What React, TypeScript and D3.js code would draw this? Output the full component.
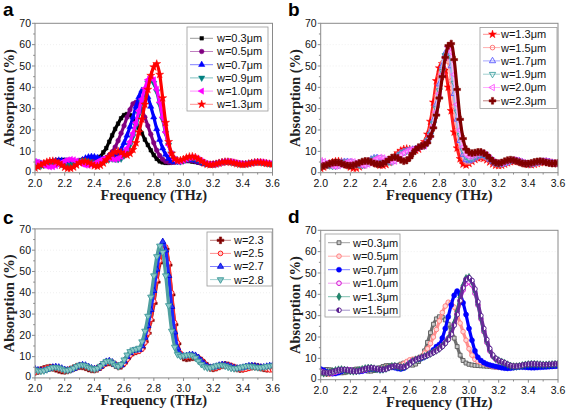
import React from "react";
import * as d3 from "d3";

// ---------------- DATA ----------------
const freq = [
  2.0, 2.02, 2.04, 2.06, 2.08, 2.1, 2.12, 2.14, 2.16, 2.18,
  2.2, 2.22, 2.24, 2.26, 2.28, 2.3, 2.32, 2.34, 2.36, 2.38,
  2.4, 2.42, 2.44, 2.46, 2.48, 2.5, 2.52, 2.54, 2.56, 2.58,
  2.6, 2.62, 2.64, 2.66, 2.68, 2.7, 2.72, 2.74, 2.76, 2.78,
  2.8, 2.82, 2.84, 2.86, 2.88, 2.9, 2.92, 2.94, 2.96, 2.98,
  3.0, 3.02, 3.04, 3.06, 3.08, 3.1, 3.12, 3.14, 3.16, 3.18,
  3.2, 3.22, 3.24, 3.26, 3.28, 3.3, 3.32, 3.34, 3.36, 3.38,
  3.4, 3.42, 3.44, 3.46, 3.48, 3.5, 3.52, 3.54, 3.56, 3.58,
  3.6,
];

const xTicks = [2.0, 2.2, 2.4, 2.6, 2.8, 3.0, 3.2, 3.4, 3.6];
const xTickLabels = ["2.0", "2.2", "2.4", "2.6", "2.8", "3.0", "3.2", "3.4", "3.6"];
const xMinorTicks = [2.1, 2.3, 2.5, 2.7, 2.9, 3.1, 3.3, 3.5];
const yTicks = [0, 10, 20, 30, 40, 50, 60, 70];
const yTickLabels = ["0", "10", "20", "30", "40", "50", "60", "70"];
const yMinorTicks = [5, 15, 25, 35, 45, 55, 65];

// Panel a
const aW03 = [
  4.0, 3.8, 3.8, 4.0, 4.4, 4.9, 5.3, 5.6, 5.8, 5.9,
  6.0, 6.0, 5.8, 5.5, 5.2, 5.0, 4.9, 5.0, 5.2, 5.6,
  6.0, 6.5, 7.5, 9.5, 11.5, 14.5, 17.5, 20.5, 23.0, 25.5,
  27.0, 27.5, 27.0, 25.5, 23.5, 21.0, 18.5, 15.5, 13.0, 10.5,
  8.3, 6.5, 5.3, 4.8, 4.6, 4.6, 4.8, 5.0, 5.2, 5.4,
  5.5, 5.5, 5.4, 5.2, 5.0, 4.7, 4.4, 4.2, 4.1, 4.1,
  4.2, 4.4, 4.6, 4.8, 4.9, 4.9, 4.8, 4.6, 4.4, 4.3,
  4.2, 4.3, 4.5, 4.7, 4.8, 4.9, 4.8, 4.6, 4.4, 4.3,
  4.2,
];
const aW05 = [
  3.0, 3.2, 3.6, 4.1, 4.6, 5.0, 5.3, 5.4, 5.3, 5.1,
  4.8, 4.6, 4.6, 4.8, 5.2, 5.7, 6.1, 6.3, 6.2, 5.9,
  5.6, 5.5, 5.7, 6.2, 7.0, 8.2, 9.8, 12.0, 15.0, 18.5,
  22.0, 26.0, 29.5, 32.3, 33.0, 32.0, 29.5, 26.0, 22.0, 18.0,
  14.0, 10.5, 8.0, 6.3, 5.3, 4.9, 4.8, 4.9, 5.2, 5.5,
  5.8, 5.9, 5.8, 5.6, 5.3, 4.9, 4.5, 4.2, 4.0, 4.0,
  4.1, 4.3, 4.6, 4.8, 5.0, 5.0, 4.9, 4.7, 4.5, 4.3,
  4.2, 4.2, 4.4, 4.6, 4.8, 4.9, 4.9, 4.7, 4.5, 4.3,
  4.2,
];
const aW07 = [
  5.0, 4.6, 4.3, 4.2, 4.4, 4.8, 5.2, 5.6, 5.8, 5.7,
  5.4, 5.0, 4.6, 4.4, 4.6, 5.2, 6.0, 6.8, 7.3, 7.5,
  7.4, 7.0, 6.5, 6.2, 6.2, 6.5, 7.0, 7.8, 9.0, 11.0,
  14.0, 17.5, 21.5, 26.0, 31.0, 35.5, 38.5, 38.0, 35.5, 31.0,
  26.0, 20.5, 15.5, 11.5, 8.5, 6.6, 5.5, 5.0, 4.9, 5.1,
  5.5, 5.9, 6.1, 6.1, 5.8, 5.3, 4.7, 4.2, 3.9, 3.8,
  3.9, 4.2, 4.6, 4.9, 5.1, 5.1, 4.9, 4.6, 4.3, 4.1,
  4.0, 4.1, 4.3, 4.6, 4.8, 4.9, 4.8, 4.6, 4.4, 4.2,
  4.1,
];
const aW09 = [
  3.5, 3.2, 3.2, 3.5, 4.0, 4.5, 4.8, 4.8, 4.5, 4.0,
  3.6, 3.5, 3.7, 4.2, 4.9, 5.5, 5.8, 5.7, 5.3, 4.8,
  4.4, 4.3, 4.6, 5.2, 5.9, 6.4, 6.5, 6.3, 6.2, 6.5,
  8.0, 10.0, 13.0, 17.0, 22.0, 27.5, 33.0, 38.0, 42.0, 43.5,
  42.0, 38.0, 32.0, 25.0, 18.5, 13.0, 9.0, 6.6, 5.4, 5.2,
  5.6, 6.2, 6.7, 6.9, 6.7, 6.1, 5.4, 4.7, 4.2, 3.9,
  3.9, 4.1, 4.5, 4.9, 5.1, 5.2, 5.0, 4.7, 4.4, 4.1,
  4.0, 4.1, 4.4, 4.7, 4.9, 5.0, 4.9, 4.7, 4.4, 4.2,
  4.1,
];
const aW10 = [
  5.2, 4.8, 4.2, 3.5, 3.0, 2.7, 2.8, 3.3, 4.0, 4.8,
  5.5, 6.0, 6.2, 6.0, 5.5, 4.8, 4.0, 3.5, 3.4, 3.7,
  4.3, 5.1, 5.9, 6.5, 6.8, 6.7, 6.4, 6.2, 6.6, 7.5,
  9.5, 11.5, 14.5, 18.5, 23.5, 29.0, 34.5, 39.5, 43.5, 45.0,
  43.5, 39.0, 33.0, 26.0, 19.0, 13.0, 8.8, 6.3, 5.3, 5.3,
  5.8, 6.4, 6.9, 7.1, 6.9, 6.3, 5.5, 4.7, 4.1, 3.8,
  3.8, 4.0, 4.4, 4.8, 5.1, 5.2, 5.1, 4.8, 4.5, 4.2,
  4.0, 4.0, 4.2, 4.5, 4.8, 5.0, 5.0, 4.8, 4.5, 4.3,
  4.2,
];
const aW13 = [
  2.2, 2.8, 3.6, 4.4, 5.0, 5.4, 5.5, 5.2, 4.5, 3.5,
  2.5, 2.0, 2.0, 2.6, 3.6, 4.6, 5.2, 5.3, 4.8, 4.0,
  3.2, 3.0, 3.4, 4.5, 6.0, 7.5, 8.8, 9.7, 10.0, 9.5,
  8.5, 8.2, 9.0, 10.8, 14.0, 19.0, 25.0, 32.0, 39.0, 45.5,
  49.5, 51.0, 46.0, 35.0, 23.5, 14.5, 9.0, 6.5, 5.6, 5.8,
  6.3, 7.0, 7.5, 7.6, 7.2, 6.4, 5.4, 4.5, 3.9, 3.7,
  3.8, 4.1, 4.5, 4.9, 5.1, 5.1, 4.9, 4.6, 4.2, 3.9,
  3.8, 3.9, 4.2, 4.5, 4.8, 4.9, 4.8, 4.6, 4.3, 4.1,
  4.0,
];

// Panel b
const bW13 = [
  2.0, 2.6, 3.4, 4.2, 4.9, 5.3, 5.4, 5.1, 4.4, 3.5,
  2.6, 2.1, 2.1, 2.7, 3.6, 4.6, 5.2, 5.3, 4.8, 4.1,
  3.5, 3.4, 3.8, 4.8, 6.2, 7.8, 9.2, 10.3, 11.0, 11.2,
  11.0, 10.6, 10.5, 11.0, 12.5, 14.5, 18.0, 24.0, 33.0, 43.0,
  49.0, 51.0, 48.0, 40.0, 29.0, 19.0, 11.5, 6.5, 4.0, 3.6,
  4.3, 5.3, 6.2, 6.8, 7.0, 6.7, 6.0, 5.0, 4.1, 3.5,
  3.3, 3.5, 4.0, 4.6, 5.1, 5.4, 5.4, 5.1, 4.6, 4.1,
  3.8, 3.7, 3.9, 4.3, 4.7, 5.0, 5.1, 4.9, 4.6, 4.3,
  4.1,
];
const bW15 = [
  3.0, 2.8, 2.9, 3.3, 3.9, 4.5, 5.0, 5.2, 5.0, 4.5,
  3.8, 3.2, 2.9, 3.1, 3.8, 4.7, 5.6, 6.1, 6.0, 5.4,
  4.6, 4.1, 4.2, 4.9, 6.1, 7.5, 8.7, 9.6, 10.2, 10.6,
  10.8, 10.9, 11.0, 11.4, 12.2, 13.5, 16.0, 20.0, 27.0, 36.0,
  45.0, 51.5, 55.0, 52.0, 43.0, 31.0, 20.0, 12.0, 7.0, 4.8,
  4.8, 5.6, 6.5, 7.2, 7.5, 7.3, 6.6, 5.6, 4.6, 3.9,
  3.6, 3.7, 4.1, 4.7, 5.2, 5.5, 5.5, 5.2, 4.7, 4.2,
  3.9, 3.8, 4.0, 4.4, 4.8, 5.1, 5.2, 5.0, 4.6, 4.3,
  4.1,
];
const bW17 = [
  4.5, 3.8, 3.3, 3.1, 3.3, 3.8, 4.4, 4.9, 5.2, 5.2,
  4.9, 4.3, 3.7, 3.4, 3.6, 4.3, 5.3, 6.3, 6.9, 7.0,
  6.5, 5.7, 5.1, 5.0, 5.6, 6.8, 8.1, 9.2, 9.9, 10.3,
  10.6, 10.9, 11.2, 11.7, 12.4, 13.0, 15.5, 19.0, 24.5, 32.0,
  41.5, 50.0, 56.0, 57.0, 50.0, 37.0, 25.0, 15.0, 8.5, 6.0,
  5.5, 6.0, 6.9, 7.7, 8.1, 8.0, 7.3, 6.2, 5.1, 4.3,
  3.9, 3.9, 4.3, 4.9, 5.4, 5.7, 5.7, 5.4, 4.9, 4.4,
  4.1, 4.0, 4.2, 4.6, 5.0, 5.3, 5.3, 5.1, 4.7, 4.4,
  4.2,
];
const bW19 = [
  5.2, 4.6, 3.9, 3.3, 3.0, 3.1, 3.6, 4.2, 4.8, 5.1,
  5.1, 4.7, 4.1, 3.6, 3.4, 3.7, 4.5, 5.5, 6.5, 7.0,
  7.0, 6.4, 5.6, 5.0, 5.0, 5.8, 7.1, 8.5, 9.5, 10.1,
  10.5, 10.9, 11.3, 11.9, 12.4, 12.5, 15.0, 18.0, 23.0, 30.0,
  38.5, 47.5, 55.0, 58.5, 54.0, 42.0, 28.5, 17.5, 10.5, 7.5,
  6.5, 6.8, 7.5, 8.3, 8.7, 8.6, 7.8, 6.6, 5.5, 4.6,
  4.2, 4.2, 4.6, 5.2, 5.7, 5.9, 5.8, 5.4, 4.9, 4.4,
  4.1, 4.1, 4.4, 4.8, 5.2, 5.4, 5.3, 5.0, 4.6, 4.3,
  4.3,
];
const bW20 = [
  5.6, 5.2, 4.5, 3.8, 3.2, 3.0, 3.2, 3.8, 4.5, 5.0,
  5.3, 5.1, 4.6, 4.0, 3.5, 3.5, 4.0, 5.0, 6.0, 6.8,
  7.2, 6.9, 6.2, 5.5, 5.1, 5.4, 6.5, 8.0, 9.3, 10.1,
  10.6, 11.0, 11.4, 12.0, 12.5, 12.5, 14.5, 17.5, 22.0, 28.5,
  37.0, 46.0, 54.0, 59.0, 56.5, 46.0, 32.0, 20.0, 12.0, 8.5,
  7.5, 7.8, 8.3, 8.9, 9.2, 9.0, 8.1, 6.8, 5.6, 4.7,
  4.3, 4.3, 4.7, 5.3, 5.8, 6.0, 5.8, 5.4, 4.9, 4.4,
  4.1, 4.2, 4.5, 4.9, 5.3, 5.4, 5.3, 5.0, 4.6, 4.3,
  4.4,
];
const bW23 = [
  2.8, 3.2, 3.7, 4.2, 4.6, 4.8, 4.7, 4.3, 3.8, 3.4,
  3.3, 3.5, 4.0, 4.6, 5.2, 5.5, 5.4, 5.0, 4.4, 4.0,
  3.9, 4.3, 5.1, 6.2, 7.1, 7.3, 6.9, 6.0, 5.4, 5.7,
  7.0, 9.0, 10.8, 12.0, 12.5, 13.0, 14.0, 17.0, 21.0, 27.0,
  35.0, 45.0, 54.0, 59.5, 60.5, 53.0, 39.0, 25.0, 16.0, 11.0,
  9.5, 9.2, 9.4, 9.7, 9.7, 9.2, 8.2, 6.8, 5.5, 4.7,
  4.5, 4.8, 5.4, 5.9, 6.1, 5.9, 5.4, 4.9, 4.4, 4.2,
  4.3, 4.6, 5.0, 5.3, 5.4, 5.2, 4.8, 4.5, 4.3, 4.4,
  4.6,
];

// Panel c (w=2.3 is the same simulation as in panel b)
const cW23 = bW23;
const cW25 = [
  2.6, 3.0, 3.6, 4.2, 4.7, 5.0, 5.0, 4.7, 4.2, 3.7,
  3.4, 3.5, 3.9, 4.5, 5.2, 5.7, 5.8, 5.4, 4.8, 4.2,
  3.9, 4.1, 4.8, 5.9, 7.0, 7.5, 7.3, 6.5, 5.7, 5.7,
  6.7, 8.6, 10.5, 11.8, 12.3, 12.5, 13.5, 16.5, 21.0, 27.5,
  36.0, 46.0, 55.0, 60.5, 61.5, 54.0, 40.0, 26.0, 16.5, 11.5,
  10.0, 9.8, 10.0, 10.2, 10.1, 9.5, 8.4, 7.0, 5.7, 4.8,
  4.4, 4.6, 5.2, 5.8, 6.2, 6.2, 5.8, 5.1, 4.5, 4.1,
  3.9, 4.1, 4.5, 4.9, 5.2, 5.2, 4.9, 4.5, 4.1, 3.8,
  3.7,
];
const cW27 = [
  4.2, 3.7, 3.4, 3.5, 3.9, 4.5, 5.0, 5.2, 5.0, 4.5,
  3.9, 3.6, 3.7, 4.3, 5.1, 5.8, 6.1, 5.9, 5.3, 4.6,
  4.2, 4.4, 5.3, 6.6, 7.7, 8.0, 7.4, 6.3, 5.5, 6.0,
  7.8, 10.0, 11.8, 12.8, 13.0, 13.3, 15.0, 19.0, 24.5, 32.0,
  41.0, 51.0, 59.5, 64.0, 60.0, 48.0, 33.5, 21.5, 14.0, 10.8,
  10.2, 10.4, 10.8, 10.9, 10.5, 9.5, 8.0, 6.5, 5.4, 4.9,
  5.0, 5.4, 5.9, 6.2, 6.1, 5.7, 5.2, 4.7, 4.5, 4.6,
  4.9, 5.3, 5.6, 5.7, 5.5, 5.2, 5.0, 5.1, 5.4, 5.7,
  5.9,
];
const cW28 = [
  3.8, 3.4, 3.2, 3.4, 3.9, 4.5, 4.9, 5.0, 4.7, 4.2,
  3.7, 3.6, 3.9, 4.6, 5.4, 6.0, 6.1, 5.7, 5.0, 4.4,
  4.1, 4.5, 5.5, 6.8, 7.8, 7.9, 7.1, 6.0, 5.4, 6.3,
  8.5, 10.8, 12.4, 13.2, 13.5, 14.0, 17.0, 22.0, 29.0, 38.0,
  48.0, 57.0, 62.0, 59.0, 48.0, 34.0, 22.0, 14.5, 11.0, 10.2,
  10.4, 10.7, 10.8, 10.4, 9.4, 7.9, 6.4, 5.3, 4.8, 4.8,
  5.2, 5.7, 6.0, 6.0, 5.6, 5.1, 4.6, 4.4, 4.5, 4.8,
  5.2, 5.5, 5.6, 5.4, 5.1, 4.9, 4.9, 5.1, 5.4, 5.6,
  5.7,
];

// Panel d
const dW03 = [
  4.2, 4.6, 4.8, 4.7, 4.3, 3.8, 3.4, 3.2, 3.3, 3.7,
  4.2, 4.7, 5.0, 5.0, 4.7, 4.3, 4.0, 4.0, 4.3, 4.9,
  5.6, 6.2, 6.6, 6.6, 6.4, 6.3, 6.6, 7.3, 7.8, 7.6,
  7.0, 6.8, 7.3, 8.5, 10.5, 13.5, 17.5, 22.0, 26.0, 28.5,
  29.5, 29.3, 28.0, 26.0, 23.0, 19.5, 15.5, 11.5, 9.0, 7.8,
  7.2, 6.9, 6.7, 6.6, 6.5, 6.4, 6.3, 6.2, 6.0, 5.9,
  5.8, 5.8, 5.9, 6.1, 6.3, 6.4, 6.4, 6.3, 6.2, 6.1,
  6.1, 6.2, 6.3, 6.4, 6.5, 6.5, 6.5, 6.4, 6.4, 6.4,
  6.5,
];
const dW05 = [
  3.5, 3.0, 2.6, 2.6, 3.0, 3.6, 4.2, 4.6, 4.7, 4.5,
  4.2, 3.9, 3.8, 4.0, 4.5, 5.0, 5.3, 5.3, 5.1, 4.9,
  4.9, 5.2, 5.7, 6.1, 6.3, 6.3, 6.3, 6.7, 7.5, 8.5,
  9.3, 9.6, 9.8, 10.2, 11.0, 12.5, 14.5, 17.0, 20.0, 23.5,
  27.5, 31.5, 34.5, 36.3, 36.0, 34.0, 30.5, 26.5, 22.5, 18.5,
  14.5, 11.5, 9.5, 8.6, 8.1, 7.6, 7.1, 6.6, 6.2, 5.9,
  5.8, 5.8, 5.9, 6.0, 6.2, 6.3, 6.3, 6.2, 6.1, 6.0,
  6.0, 6.1, 6.2, 6.3, 6.4, 6.4, 6.4, 6.3, 6.3, 6.4,
  6.5,
];
const dW07 = [
  5.0, 4.4, 3.7, 3.1, 2.8, 2.9, 3.3, 3.9, 4.4, 4.6,
  4.5, 4.2, 3.9, 3.8, 4.0, 4.4, 4.8, 5.0, 5.0, 4.8,
  4.6, 4.7, 5.1, 5.6, 5.8, 5.6, 5.2, 5.0, 5.4, 6.5,
  7.8, 8.8, 9.3, 9.6, 10.0, 10.6, 11.5, 12.5, 14.0, 15.5,
  16.5, 19.5, 24.0, 29.5, 35.0, 39.5, 41.5, 40.0, 36.0, 30.5,
  24.0, 18.5, 13.5, 10.5, 9.0, 8.0, 7.3, 6.9, 6.5, 6.2,
  5.9, 5.6, 5.4, 5.3, 5.4, 5.6, 5.8, 5.9, 5.9, 5.8,
  5.7, 5.6, 5.6, 5.7, 5.8, 5.9, 6.0, 6.1, 6.2, 6.3,
  6.4,
];
const dW10 = [
  4.0, 3.6, 3.2, 3.0, 3.1, 3.5, 4.0, 4.5, 4.8, 4.8,
  4.6, 4.3, 4.1, 4.1, 4.3, 4.7, 5.1, 5.4, 5.4, 5.2,
  5.0, 5.0, 5.2, 5.6, 6.0, 6.1, 6.0, 5.9, 6.1, 6.8,
  7.8, 8.8, 9.5, 10.0, 10.5, 11.0, 11.6, 12.3, 13.0, 13.8,
  14.8, 16.0, 17.5, 19.5, 22.0, 26.0, 31.0, 37.0, 42.0, 45.0,
  45.8, 44.5, 40.5, 35.0, 28.5, 22.5, 17.5, 13.5, 11.0, 9.6,
  8.7, 8.3, 7.8, 7.2, 6.6, 6.3, 6.3, 6.5, 6.8, 7.1,
  7.2, 7.3, 7.3, 7.2, 7.1, 7.0, 7.0, 7.1, 7.2, 7.3,
  7.4,
];
const dW13 = [
  3.2, 3.0, 3.1, 3.4, 3.9, 4.4, 4.7, 4.8, 4.6, 4.3,
  4.0, 3.9, 4.0, 4.4, 4.9, 5.3, 5.5, 5.5, 5.2, 4.9,
  4.7, 4.8, 5.2, 5.8, 6.3, 6.4, 6.1, 5.8, 5.9, 6.5,
  7.5, 8.6, 9.4, 9.9, 10.4, 10.9, 11.5, 12.2, 12.9, 13.7,
  14.6, 15.8, 17.3, 19.3, 22.0, 26.5, 32.0, 38.5, 44.0, 47.5,
  48.0, 46.0, 41.5, 35.5, 29.0, 23.0, 18.0, 14.0, 11.3, 9.8,
  9.0, 8.4, 7.8, 7.1, 6.5, 6.2, 6.2, 6.4, 6.7, 7.0,
  7.2, 7.3, 7.3, 7.2, 7.1, 7.0, 7.0, 7.1, 7.2, 7.3,
  7.4,
];
const dW15 = [
  3.6, 3.3, 3.2, 3.3, 3.7, 4.2, 4.6, 4.8, 4.7, 4.4,
  4.1, 3.9, 3.9, 4.2, 4.7, 5.2, 5.5, 5.6, 5.4, 5.0,
  4.7, 4.7, 5.0, 5.6, 6.2, 6.5, 6.3, 5.9, 5.8, 6.3,
  7.3, 8.4, 9.3, 9.9, 10.4, 10.9, 11.4, 12.0, 12.7, 13.5,
  14.4, 15.5, 17.0, 18.8, 21.3, 25.5, 30.5, 37.0, 43.0, 47.0,
  47.8, 46.5, 42.5, 36.5, 30.0, 24.0, 18.8, 14.6, 11.6, 10.0,
  9.1, 8.5, 7.9, 7.2, 6.6, 6.3, 6.3, 6.5, 6.8, 7.1,
  7.3, 7.4, 7.4, 7.3, 7.2, 7.1, 7.1, 7.2, 7.3, 7.4,
  7.5,
];

const labelsA = ["w=0.3μm", "w=0.5μm", "w=0.7μm", "w=0.9μm", "w=1.0μm", "w=1.3μm"];
const labelsB = ["w=1.3μm", "w=1.5μm", "w=1.7μm", "w=1.9μm", "w=2.0μm", "w=2.3μm"];
const labelsC = ["w=2.3", "w=2.5", "w=2.7", "w=2.8"];
const labelsD = ["w=0.3μm", "w=0.5μm", "w=0.7μm", "w=1.0μm", "w=1.3μm", "w=1.5μm"];

// ---------------- STYLE / LAYOUT ----------------
const SANS = "'Liberation Sans', Arial, Helvetica, sans-serif";
const SERIF = "'Liberation Serif', 'Times New Roman', serif";
const FRAME = "#8a8a8a";

type Style = {
  shape: string;
  fill: string;
  stroke: string;
  line: string;
  band: string;
  size: number;
  sw?: number;
};

type Series = { label: string; values: number[]; style: Style };

const mk = (labels: string[], data: number[][], styles: Style[]): Series[] =>
  labels.map((label, i) => ({ label, values: data[i], style: styles[i] }));

const panels = [
  {
    letter: "a", lx: 3, ly: 15.5,
    left: 35, right: 272.5, top: 23.3, bottom: 172.7,
    legend: { x: 187, y: 27, w: 81, h: 84, row0: 38.3, dy: 13.2, l0: 190, l1: 213, mx: 201.7, tx: 217 },
    series: mk(labelsA, [aW03, aW05, aW07, aW09, aW10, aW13], [
      { shape: "square", fill: "#000000", stroke: "#000000", line: "#9a9a9a", band: "#000000", size: 13 },
      { shape: "circle", fill: "#800080", stroke: "#800080", line: "#c080c0", band: "#800080", size: 17 },
      { shape: "triUp", fill: "#0000ff", stroke: "#0000ff", line: "#8080ff", band: "#0000ff", size: 17 },
      { shape: "triDown", fill: "#008080", stroke: "#008080", line: "#80c0c0", band: "#008080", size: 17 },
      { shape: "triLeft", fill: "#ff00ff", stroke: "#ff00ff", line: "#ff90ff", band: "#ff00ff", size: 17 },
      { shape: "star", fill: "#ff0000", stroke: "#ff0000", line: "#ff9090", band: "#ff0000", size: 20 },
    ]),
  },
  {
    letter: "b", lx: 288, ly: 16,
    left: 320.7, right: 558, top: 23.3, bottom: 172.7,
    legend: { x: 480, y: 27.5, w: 77, h: 81, row0: 34.3, dy: 13.3, l0: 483, l1: 500, mx: 492.5, tx: 501 },
    series: mk(labelsB, [bW13, bW15, bW17, bW19, bW20, bW23], [
      { shape: "star", fill: "#ff0000", stroke: "#ff0000", line: "#ff9090", band: "#ff2020", size: 20 },
      { shape: "circle", fill: "none", stroke: "#ff6a6a", line: "#ffb0b0", band: "#ffb0b0", size: 17, sw: 0.9 },
      { shape: "triUp", fill: "none", stroke: "#5a5aff", line: "#a8a8ff", band: "#a8a8ff", size: 17, sw: 0.9 },
      { shape: "triDown", fill: "none", stroke: "#40a0a0", line: "#a0d0d0", band: "#a0d0d0", size: 17, sw: 0.9 },
      { shape: "triLeft", fill: "none", stroke: "#ff50ff", line: "#ffb0ff", band: "#ffb0ff", size: 17, sw: 0.9 },
      { shape: "cross", fill: "#800000", stroke: "#800000", line: "#c08080", band: "#800000", size: 26 },
    ]),
  },
  {
    letter: "c", lx: 3, ly: 223.7,
    left: 35, right: 272.7, top: 228.9, bottom: 377.9,
    legend: { x: 207, y: 232, w: 65, h: 54, row0: 240.3, dy: 13.1, l0: 210, l1: 231, mx: 220.5, tx: 234 },
    series: mk(labelsC, [cW23, cW25, cW27, cW28], [
      { shape: "cross", fill: "#800000", stroke: "#800000", line: "#c08080", band: "#800000", size: 26 },
      { shape: "circle", fill: "#ffd0d0", stroke: "#ff1a1a", line: "#ff9090", band: "#ff3030", size: 17, sw: 1.0 },
      { shape: "triUp", fill: "#2a3cff", stroke: "#0000d0", line: "#8080ff", band: "#1a2aff", size: 17, sw: 0.8 },
      { shape: "triDown", fill: "#8cc8c8", stroke: "#3f9a9a", line: "#a0d0d0", band: "#50a0a0", size: 18, sw: 0.9 },
    ]),
  },
  {
    letter: "d", lx: 288, ly: 223,
    left: 320.7, right: 558, top: 230.3, bottom: 379.7,
    legend: { x: 325, y: 234, w: 75, h: 83, row0: 242.7, dy: 13.5, l0: 328, l1: 350, mx: 339, tx: 353 },
    series: mk(labelsD, [dW03, dW05, dW07, dW10, dW13, dW15], [
      { shape: "square", fill: "#c8c8c8", stroke: "#5a5a5a", line: "#a0a0a0", band: "#707070", size: 15, sw: 0.9 },
      { shape: "circle", fill: "#ffd8d8", stroke: "#ff7a7a", line: "#ffb0b0", band: "#ff9090", size: 17, sw: 0.9 },
      { shape: "circle", fill: "#0000ff", stroke: "#0000ff", line: "#8080ff", band: "#0000ff", size: 20 },
      { shape: "circle", fill: "#ffe0ff", stroke: "#d010d0", line: "#f0a0f0", band: "#d010d0", size: 17, sw: 1.0 },
      { shape: "diamond", fill: "#1f8a6e", stroke: "#1f6a5a", line: "#80c0b0", band: "#1f8a6e", size: 17, sw: 0.6 },
      { shape: "half", fill: "#5a2090", stroke: "#5a2090", line: "#a090c8", band: "#6a2a9a", size: 17, sw: 1.0 },
    ]),
  },
];

function symbolPath(shape: string, size: number): string {
  const gen = d3.symbol();
  switch (shape) {
    case "square": return gen.type(d3.symbolSquare).size(size)() as string;
    case "circle": return gen.type(d3.symbolCircle).size(size)() as string;
    case "triUp":
    case "triDown":
    case "triLeft": return gen.type(d3.symbolTriangle).size(size)() as string;
    case "star": return gen.type(d3.symbolStar).size(size)() as string;
    case "cross": return gen.type(d3.symbolCross).size(size)() as string;
    case "diamond": return gen.type(d3.symbolDiamond).size(size)() as string;
    default: return gen.type(d3.symbolCircle).size(size)() as string;
  }
}

function rotationOf(shape: string): number {
  if (shape === "triDown") return 180;
  if (shape === "triLeft") return -90;
  return 0;
}

function Marker({ s, x, y }: { s: Style; x: number; y: number }) {
  if (s.shape === "half") {
    const r = Math.sqrt(s.size / Math.PI);
    const half = d3.arc()({ innerRadius: 0, outerRadius: r, startAngle: Math.PI, endAngle: 2 * Math.PI } as any) as string;
    return (
      <g transform={`translate(${x},${y})`}>
        <circle r={r} fill="#ffffff" stroke={s.stroke} strokeWidth={s.sw ?? 1} />
        <path d={half} fill={s.fill} />
      </g>
    );
  }
  const d = symbolPath(s.shape, s.size);
  const rot = rotationOf(s.shape);
  return (
    <path
      d={d}
      transform={`translate(${x},${y})${rot ? ` rotate(${rot})` : ""}`}
      fill={s.fill}
      stroke={s.stroke}
      strokeWidth={s.sw ?? 0.5}
    />
  );
}

function Panel({ p, idx }: { p: any; idx: number }) {
  const x = d3.scaleLinear().domain([2.0, 3.6]).range([p.left, p.right]);
  const y = d3.scaleLinear().domain([0, 70]).range([p.bottom, p.top]);
  const line = d3
    .line<number>()
    .x((_, i) => x(freq[i]))
    .y((v) => y(v))
    .curve(d3.curveMonotoneX);
  const clipId = `clip-${idx}`;
  const cx = (p.left + p.right) / 2;
  const cy = (p.top + p.bottom) / 2;
  const lg = p.legend;
  return (
    <g>
      <defs>
        <clipPath id={clipId}>
          <rect x={p.left} y={p.top} width={p.right - p.left} height={p.bottom - p.top} />
        </clipPath>
      </defs>
      <rect x={p.left} y={p.top} width={p.right - p.left} height={p.bottom - p.top} fill="#ffffff" />
      {yTicks.slice(1, -1).map((t) => (
        <line key={`gy${t}`} x1={p.left} x2={p.right} y1={y(t)} y2={y(t)} stroke="#e6e6e6" strokeWidth={0.6} strokeDasharray="1,2" />
      ))}
      <g clipPath={`url(#${clipId})`}>
        {p.series.map((s: Series, si: number) => (
          <g key={`m${si}`}>
            <path d={line(s.values) as string} fill="none" stroke={s.style.band} strokeWidth={3.2} strokeLinejoin="round" />
            {s.values.map((v, i) => (
              <Marker key={i} s={s.style} x={x(freq[i])} y={y(v)} />
            ))}
          </g>
        ))}
      </g>
      <rect x={p.left} y={p.top} width={p.right - p.left} height={p.bottom - p.top} fill="none" stroke={FRAME} strokeWidth={1} />
      {xTicks.map((t, i) => (
        <g key={`xt${i}`}>
          <line x1={x(t)} x2={x(t)} y1={p.bottom} y2={p.bottom + 3} stroke={FRAME} />
          <text x={x(t)} y={p.bottom + 13.8} textAnchor="middle" fontFamily={SANS} fontSize={10.5} fill="#111">
            {xTickLabels[i]}
          </text>
        </g>
      ))}
      {xMinorTicks.map((t, i) => (
        <line key={`xm${i}`} x1={x(t)} x2={x(t)} y1={p.bottom} y2={p.bottom + 1.8} stroke={FRAME} />
      ))}
      {yTicks.map((t, i) => (
        <g key={`yt${i}`}>
          <line x1={p.left - 3} x2={p.left} y1={y(t)} y2={y(t)} stroke={FRAME} />
          <text x={p.left - 4} y={y(t) + (t === 0 ? 2.0 : 3.7)} textAnchor="end" fontFamily={SANS} fontSize={10.5} fill="#111">
            {yTickLabels[i]}
          </text>
        </g>
      ))}
      {yMinorTicks.map((t, i) => (
        <line key={`ym${i}`} x1={p.left - 1.8} x2={p.left} y1={y(t)} y2={y(t)} stroke={FRAME} />
      ))}
      <text x={cx} y={p.bottom + 27.5} textAnchor="middle" fontFamily={SERIF} fontWeight="bold" fontSize={14.5} fill="#222">
        Frequency (THz)
      </text>
      <text
        transform={`translate(${p.left - 21},${cy}) rotate(-90)`}
        textAnchor="middle"
        fontFamily={SERIF}
        fontWeight="bold"
        fontSize={14.5}
        fill="#222"
      >
        Absorption (%)
      </text>
      <text x={p.lx} y={p.ly} fontFamily={SANS} fontWeight="bold" fontSize={19} fill="#000">
        {p.letter}
      </text>
      <rect x={lg.x} y={lg.y} width={lg.w} height={lg.h} fill="#ffffff" stroke="#9a9a9a" strokeWidth={0.8} />
      {p.series.map((s: Series, si: number) => {
        const ry = lg.row0 + si * lg.dy;
        return (
          <g key={`lg${si}`}>
            <line x1={lg.l0} x2={lg.l1} y1={ry} y2={ry} stroke={s.style.line} strokeWidth={1} />
            <Marker s={s.style} x={lg.mx} y={ry} />
            <text x={lg.tx} y={ry + 3.9} fontFamily={SANS} fontSize={11} fill="#111">
              {s.label}
            </text>
          </g>
        );
      })}
    </g>
  );
}

export default function App() {
  return (
    <svg
      width={567}
      height={414}
      viewBox="0 0 567 414"
      style={{ position: "absolute", left: 0, top: 0, background: "#ffffff" }}
    >
      <rect x={0} y={0} width={567} height={414} fill="#ffffff" />
      {panels.map((p, i) => (
        <Panel key={i} p={p} idx={i} />
      ))}
    </svg>
  );
}
